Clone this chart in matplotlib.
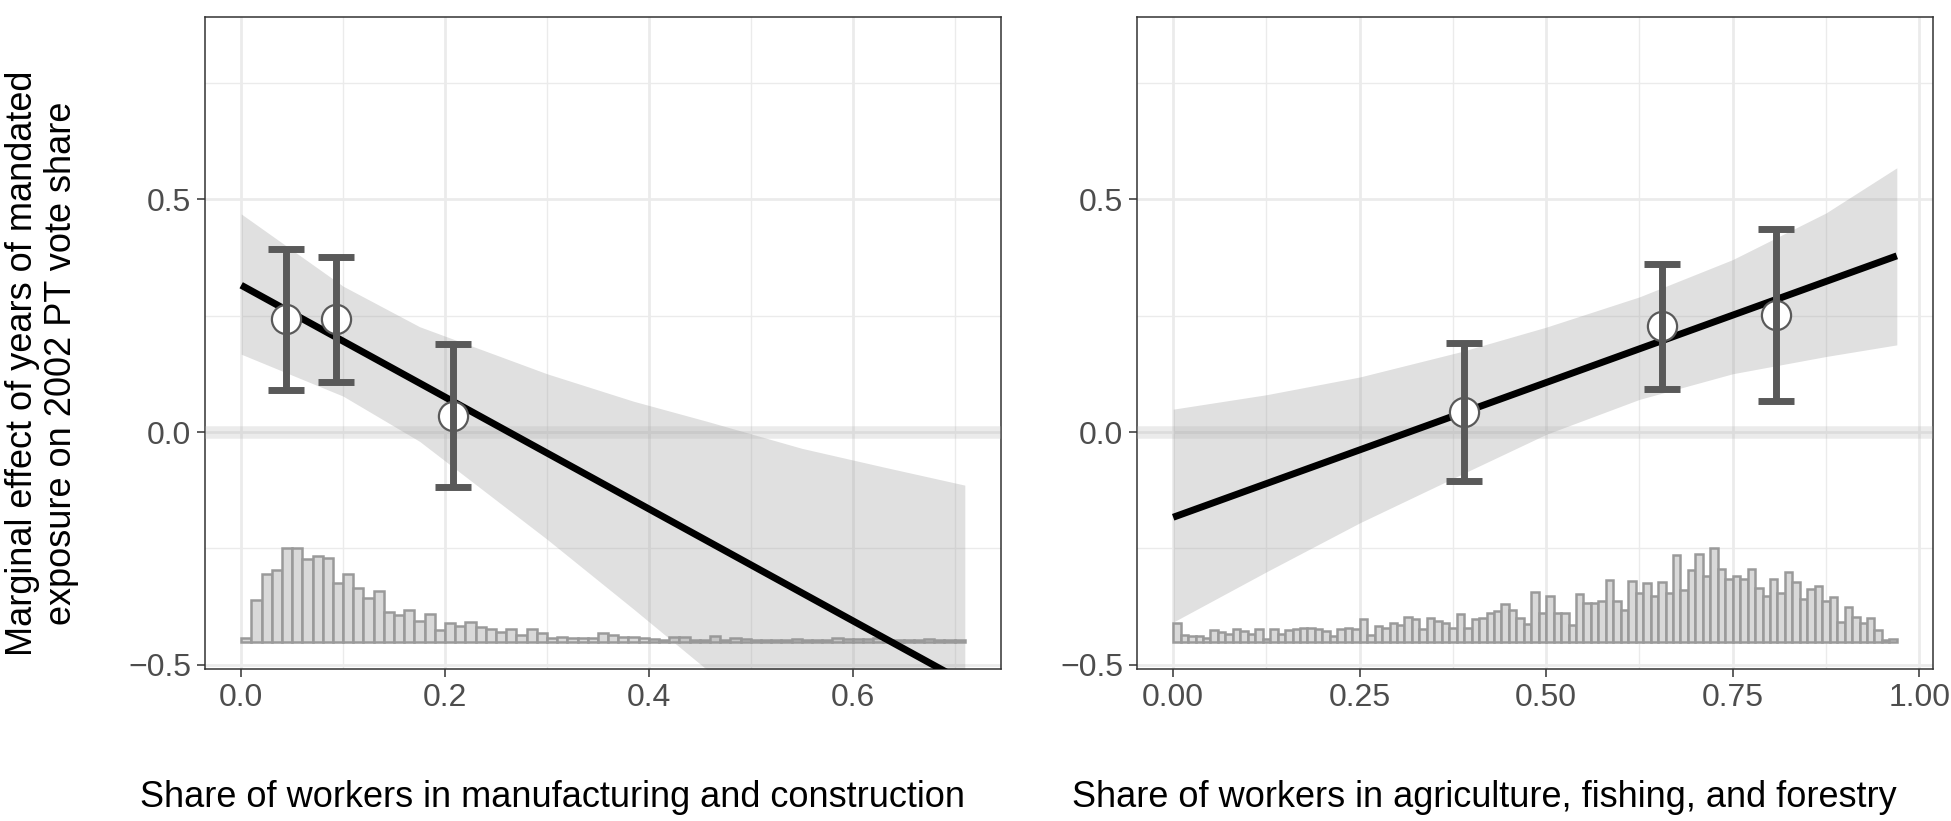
import numpy as np
import matplotlib
matplotlib.use("Agg")
import matplotlib.pyplot as plt

plt.rcParams['font.family'] = ['Liberation Sans', 'DejaVu Sans']

# ---------------- data ----------------
# Left panel: manufacturing & construction
mc_pts_x = [0.044, 0.093, 0.208]
mc_pts_y = [0.242, 0.242, 0.035]
mc_ci_lo = [0.090, 0.108, -0.118]
mc_ci_hi = [0.393, 0.376, 0.188]
mc_line_x = [0.0, 0.71]
mc_line_y = [0.315, -0.537]
mc_rib_x = [0.0, 0.1, 0.175, 0.3, 0.385, 0.457, 0.55, 0.63, 0.71]
mc_rib_hi = [0.468, 0.313, 0.226, 0.125, 0.066, 0.023, -0.035, -0.075, -0.114]
mc_rib_lo = [0.167, 0.077, -0.02, -0.23, -0.38, -0.51, -0.68, -0.82, -0.96]
mc_hist = [12, 125, 203, 215, 278, 278, 248, 257, 250, 175, 203, 160, 130, 152,
           90, 80, 95, 62, 82, 35, 57, 48, 59, 43, 37, 30, 37, 20, 37, 25, 10,
           15, 10, 12, 12, 25,
           20, 15, 15, 12, 8, 6, 14, 14, 6, 5, 17, 6, 10, 8, 6, 6, 6, 6, 9, 6,
           6, 6, 10, 8, 8, 8, 12, 6, 6, 5, 6, 8, 6, 6, 6]

# Right panel: agriculture, fishing & forestry
ag_pts_x = [0.390, 0.655, 0.808]
ag_pts_y = [0.043, 0.227, 0.251]
ag_ci_lo = [-0.105, 0.092, 0.067]
ag_ci_hi = [0.192, 0.361, 0.436]
ag_line_x = [0.0, 0.97]
ag_line_y = [-0.183, 0.378]
ag_rib_x = [0.0, 0.125, 0.25, 0.385, 0.5, 0.625, 0.75, 0.875, 0.97]
ag_rib_hi = [0.049, 0.08, 0.118, 0.172, 0.225, 0.29, 0.37, 0.47, 0.567]
ag_rib_lo = [-0.408, -0.30, -0.195, -0.092, -0.005, 0.07, 0.125, 0.162, 0.187]
ag_hist = [55, 19, 17, 17, 12, 35, 29, 22, 39, 32, 24, 37, 7, 39, 22, 35, 39, 40,
           42, 37, 32, 17, 39, 42, 37,
           69, 19, 47, 42, 57, 49, 75, 67, 37, 72, 62, 57, 42, 84, 42, 67, 72,
           85, 92, 112, 95, 72, 52,
           147,
           87, 137, 85, 85, 50, 143, 115, 115, 120, 183, 120, 95, 180, 145, 175,
           135, 177, 145, 260, 155, 213, 262, 195, 278, 217, 187, 197, 187, 217,
           160, 137, 188, 145, 208, 178, 127, 157, 167, 120, 133, 60, 103, 73,
           57, 72, 35, 5, 9]

bin_w = 0.01
hist_base = -0.45
hist_height = 0.2

xlabels = ["Share of workers in manufacturing and construction",
           "Share of workers in agriculture, fishing, and forestry"]
ylabel = "Marginal effect of years of mandated\nexposure on 2002 PT vote share"
yticks = [-0.5, 0.0, 0.5]
yticklabels = ["\u22120.5", "0.0", "0.5"]
mc_xticks = [0.0, 0.2, 0.4, 0.6]
mc_xticklabels = ["0.0", "0.2", "0.4", "0.6"]
ag_xticks = [0.0, 0.25, 0.5, 0.75, 1.0]
ag_xticklabels = ["0.00", "0.25", "0.50", "0.75", "1.00"]

# ---------------- figure ----------------
W, H = 1951, 821
fig = plt.figure(figsize=(W / 100, H / 100), dpi=100)
fig.patch.set_facecolor('white')

def px_axes(x0, x1, y0, y1):
    return fig.add_axes([x0 / W, 1 - y1 / H, (x1 - x0) / W, (y1 - y0) / H])

axL = px_axes(205, 1001, 17, 669)
axR = px_axes(1137, 1933, 17, 669)

ERR = '#595959'
GRID = '#ebebeb'

def panel(ax, px, py, lo, hi, lx, ly, rx, rlo, rhi, hist, xlim, xt, xtl, minor_x):
    ax.set_xlim(*xlim)
    ax.set_ylim(-0.5086, 0.8906)
    ax.set_facecolor('white')
    # grid
    for m in minor_x:
        ax.axvline(m, color=GRID, lw=1.0, zorder=0)
    for m in [-0.25, 0.25, 0.75]:
        ax.axhline(m, color=GRID, lw=1.0, zorder=0)
    for t in xt:
        ax.axvline(t, color=GRID, lw=2.0, zorder=0)
    for t in yticks:
        ax.axhline(t, color=GRID, lw=2.0, zorder=0)
    # histogram
    h = np.array(hist, dtype=float)
    h = h / h.max() * hist_height
    edges = np.arange(len(hist)) * bin_w
    ax.bar(edges, h, width=bin_w, bottom=hist_base, align='edge',
           facecolor='#d9d9d9', edgecolor='#9a9a9a', linewidth=1.8, zorder=1)
    # ribbon
    ax.fill_between(rx, rlo, rhi, color='#999999', alpha=0.3, lw=0, zorder=2)
    # zero line band
    ax.axhline(0, color='#b3b3b3', lw=9, alpha=0.25, zorder=3)
    # fit line
    ax.plot(lx, ly, color='black', lw=5, solid_capstyle='butt', zorder=4)
    # points
    ax.plot(px, py, 'o', ms=21, mfc='white', mec=ERR, mew=1.6, zorder=5)
    cap = (xlim[1] - xlim[0]) * 36 / 796 / 2
    for x, l, u in zip(px, lo, hi):
        ax.plot([x, x], [l, u], color=ERR, lw=5, solid_capstyle='butt', zorder=6)
        ax.plot([x - cap, x + cap], [l, l], color=ERR, lw=5, solid_capstyle='butt', zorder=6)
        ax.plot([x - cap, x + cap], [u, u], color=ERR, lw=5, solid_capstyle='butt', zorder=6)
    # axes style
    ax.set_xticks(xt)
    ax.set_xticklabels(xtl)
    ax.set_yticks(yticks)
    ax.set_yticklabels(yticklabels)
    for s in ax.spines.values():
        s.set_color('#333333')
        s.set_linewidth(1.1)
    ax.tick_params(axis='both', direction='out', length=6, width=1.1,
                   color='#333333', labelcolor='#4d4d4d', labelsize=23, pad=4)

panel(axL, mc_pts_x, mc_pts_y, mc_ci_lo, mc_ci_hi, mc_line_x, mc_line_y,
      mc_rib_x, mc_rib_lo, mc_rib_hi, mc_hist, (-0.0355, 0.7455),
      mc_xticks, mc_xticklabels, [0.1, 0.3, 0.5, 0.7])
panel(axR, ag_pts_x, ag_pts_y, ag_ci_lo, ag_ci_hi, ag_line_x, ag_line_y,
      ag_rib_x, ag_rib_lo, ag_rib_hi, ag_hist, (-0.0485, 1.0185),
      ag_xticks, ag_xticklabels, [0.125, 0.375, 0.625, 0.875])

fig.text(553 / W, 1 - 797 / H, xlabels[0], ha='center', va='center', fontsize=26, color='black')
fig.text(1484 / W, 1 - 797 / H, xlabels[1], ha='center', va='center', fontsize=26, color='black')
fig.text(42 / W, 1 - 363 / H, ylabel, rotation=90, ha='center', va='center',
         fontsize=26, color='black', multialignment='center', linespacing=1.15)

fig.savefig('out.png', dpi=100, facecolor='white')
